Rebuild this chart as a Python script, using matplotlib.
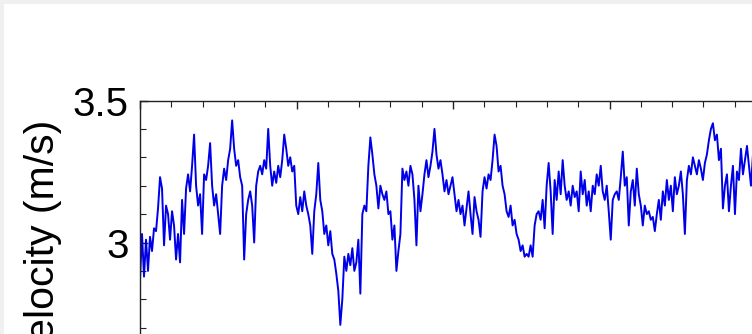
import numpy as np
import matplotlib
matplotlib.use('Agg')
import matplotlib.pyplot as plt
from matplotlib.patches import Rectangle
from matplotlib.ticker import MultipleLocator

plt.rcParams['font.family'] = ['Liberation Sans', 'DejaVu Sans']

# velocity trace (m/s), one sample every dt seconds
dt = 0.0128
velocity = [
    2.87, 3.03, 2.88, 3.01, 2.90, 3.02, 2.97, 3.05, 3.04, 3.12,
    3.23, 3.19, 2.99, 3.13, 3.10, 3.01, 3.11, 3.06, 2.94, 3.03,
    2.93, 3.15, 3.03, 3.19, 3.24, 3.18, 3.27, 3.38, 3.20, 3.13,
    3.17, 3.03, 3.24, 3.22, 3.27, 3.35, 3.20, 3.13, 3.17, 3.10,
    3.03, 3.20, 3.26, 3.22, 3.29, 3.33, 3.43, 3.33, 3.27, 3.29,
    3.23, 3.20, 2.94, 3.10, 3.15, 3.18, 3.13, 3.00, 3.20, 3.25,
    3.27, 3.24, 3.29, 3.26, 3.40, 3.27, 3.20, 3.25, 3.21, 3.27,
    3.23, 3.29, 3.38, 3.33, 3.27, 3.30, 3.25, 3.27, 3.13, 3.10,
    3.16, 3.11, 3.18, 3.13, 3.10, 3.06, 2.96, 3.11, 3.17, 3.28,
    3.15, 3.11, 3.03, 3.06, 2.99, 3.04, 2.96, 2.94, 2.89, 2.83,
    2.71, 2.80, 2.95, 2.90, 2.96, 2.92, 2.98, 2.90, 2.93, 3.01,
    2.82, 3.10, 3.13, 3.11, 3.27, 3.37, 3.31, 3.24, 3.20, 3.12,
    3.20, 3.17, 3.15, 3.18, 3.10, 3.11, 3.01, 3.06, 2.90, 2.97,
    3.03, 3.26, 3.22, 3.25, 3.20, 3.27, 3.24, 3.15, 2.99, 3.20,
    3.11, 3.17, 3.24, 3.29, 3.23, 3.27, 3.32, 3.40, 3.31, 3.26,
    3.29, 3.24, 3.18, 3.22, 3.17, 3.20, 3.23, 3.17, 3.11, 3.15,
    3.10, 3.13, 3.06, 3.12, 3.18, 3.10, 3.03, 3.16, 3.11, 3.08,
    3.02, 3.18, 3.23, 3.19, 3.24, 3.22, 3.29, 3.38, 3.34, 3.25,
    3.27, 3.20, 3.17, 3.11, 3.09, 3.13, 3.06, 3.08, 3.03, 3.01,
    2.97, 2.99, 2.95, 2.96, 2.95, 2.99, 2.95, 3.06, 3.10, 3.11,
    3.08, 3.15, 3.05, 3.20, 3.28, 3.18, 3.03, 3.22, 3.15, 3.25,
    3.17, 3.29, 3.20, 3.15, 3.18, 3.13, 3.20, 3.16, 3.18, 3.11,
    3.25, 3.17, 3.22, 3.13, 3.18, 3.11, 3.20, 3.17, 3.24, 3.20,
    3.27, 3.18, 3.15, 3.20, 3.11, 3.01, 3.15, 3.17, 3.18, 3.15,
    3.23, 3.32, 3.20, 3.23, 3.06, 3.18, 3.22, 3.13, 3.26, 3.17,
    3.13, 3.06, 3.13, 3.10, 3.11, 3.08, 3.09, 3.04, 3.10, 3.15,
    3.08, 3.18, 3.13, 3.22, 3.15, 3.20, 3.11, 3.23, 3.17, 3.20,
    3.25, 3.17, 3.03, 3.22, 3.27, 3.24, 3.30, 3.27, 3.24, 3.29,
    3.26, 3.22, 3.28, 3.31, 3.36, 3.40, 3.42, 3.36, 3.38, 3.29,
    3.33, 3.12, 3.20, 3.24, 3.11, 3.20, 3.27, 3.10, 3.25, 3.22,
    3.33, 3.24, 3.29, 3.34, 3.27, 3.20, 3.31, 3.25,
]
t = np.arange(len(velocity)) * dt

W, H = 752, 334
fig = plt.figure(figsize=(W / 100, H / 100), dpi=100, facecolor='#f0f0f0')
# white plotting area, thin grey border on the top and left only
fig.patches.append(Rectangle((4 / W, 0), 1, 1 - 4 / H, transform=fig.transFigure,
                             facecolor='white', edgecolor='none', zorder=-5))

# axes run off the right and bottom edges of the picture
x_left, y_top = 140, 100.5
px_per_s = 156.5
px_per_ms = 284.0
xmin, xmax = 0, 5
ymin, ymax = 2.5, 3.5
ax_w = (xmax - xmin) * px_per_s
ax_h = (ymax - ymin) * px_per_ms
ax = fig.add_axes([x_left / W, 1 - (y_top + ax_h) / H, ax_w / W, ax_h / H])
ax.set_facecolor('white')

ax.plot(t, velocity, color='#0000e8', lw=1.4)

ax.set_xlim(xmin, xmax)
ax.set_ylim(ymin, ymax)
ax.xaxis.set_major_locator(MultipleLocator(1))
ax.xaxis.set_minor_locator(MultipleLocator(0.2))
ax.set_yticks([3, 3.5])
ax.set_yticklabels(['3', '3.5'])
ax.yaxis.set_minor_locator(MultipleLocator(0.1))
ax.tick_params(which='both', direction='in', top=True, right=True, color='#222222')
ax.tick_params(axis='x', labelbottom=False)
ax.tick_params(which='major', length=6, width=1, labelsize=29, pad=8)
ax.tick_params(which='minor', length=4, width=0.8)
for s in ax.spines.values():
    s.set_color('#222222')
    s.set_linewidth(1)

fig.text(62 / W, 1 - 120 / H, 'Velocity (m/s)', rotation=90, fontsize=29.5,
         ha='right', va='top')

fig.savefig('out.png', dpi=100, facecolor=fig.get_facecolor())
